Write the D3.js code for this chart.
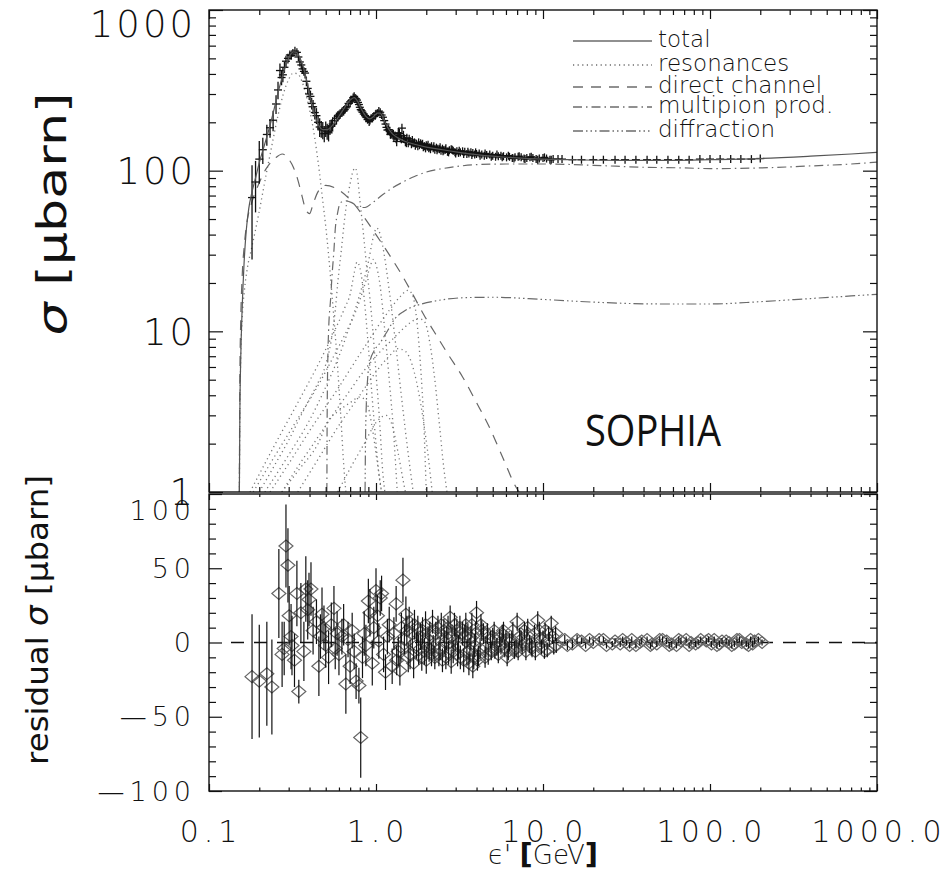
<!DOCTYPE html>
<html>
<head>
<meta charset="utf-8">
<script src="https://cdn.jsdelivr.net/npm/d3@7/dist/d3.min.js"></script>
<style>
  body { margin: 0; background: #fff; }
  svg { display: block; }
  .lbl { font-family: "DejaVu Sans", sans-serif; font-weight: 200; fill: #111; }
</style>
</head>
<body>
<svg id="chart" width="946" height="872"></svg>
<script>
// ---- model curves, [eps' GeV, sigma microbarn]
var totalCurve = [[0.152,1],[0.153,3],[0.155,7],[0.158,14],[0.162,26],[0.167,42],[0.173,58],[0.18,72],[0.19,90],[0.2,112],
  [0.215,145],[0.23,185],[0.245,240],[0.26,310],[0.275,385],[0.29,460],[0.305,520],[0.32,548],[0.335,545],[0.35,505],
  [0.37,430],[0.39,340],[0.41,265],[0.43,220],[0.45,195],[0.48,180],[0.51,180],[0.55,192],[0.6,218],[0.65,248],
  [0.7,275],[0.74,285],[0.78,268],[0.82,240],[0.87,218],[0.92,210],[0.97,218],[1.02,228],[1.06,228],[1.1,215],
  [1.16,190],[1.25,170],[1.35,160],[1.5,152],[1.7,146],[2,140],[2.5,135],[3,131],[4,126],[5,123],[7,120],[10,118],
  [15,117],[30,116],[60,116],[100,117],[200,119],[400,123],[700,127],[1000,130]];

var deltaRes = [[0.152,1],[0.153,3],[0.155,7],[0.158,12],[0.163,18],[0.17,25],[0.18,33],[0.19,43],[0.2,56],[0.22,95],
  [0.24,150],[0.26,225],[0.28,305],[0.3,370],[0.32,405],[0.34,400],[0.36,360],[0.38,300],[0.4,240],[0.42,185],
  [0.44,135],[0.46,95],[0.48,65],[0.5,45],[0.52,30],[0.54,19],[0.56,12],[0.58,7.5],[0.6,4.5],[0.62,2.6],[0.64,1.5],[0.66,1]];
var res1520 = [[0.2,1],[0.25,1.5],[0.3,2.1],[0.35,2.9],[0.4,3.8],[0.45,4.8],[0.5,6.2],[0.55,10],[0.57,13.5],[0.59,20],
  [0.62,32],[0.65,51],[0.7,83],[0.73,100],[0.75,104],[0.77,96],[0.8,66],[0.84,41],[0.88,25],[0.92,16],[0.96,9.8],
  [1,5.5],[1.05,2.8],[1.1,1.3],[1.13,1]];
var res1680 = [[0.216,1],[0.3,1.7],[0.4,2.8],[0.5,4.5],[0.6,7],[0.7,11],[0.8,17],[0.9,27],[0.96,38],[1.01,44],
  [1.06,40],[1.12,30],[1.2,18],[1.3,9],[1.4,4.5],[1.5,2.4],[1.6,1.4],[1.67,1]];
var res1535 = [[0.176,1],[0.25,2],[0.35,3.8],[0.45,6.2],[0.55,9.5],[0.65,14],[0.7,17],[0.74,23],[0.77,27],[0.8,25],
  [0.85,16],[0.9,8],[0.95,3.8],[1,2],[1.05,1.2],[1.08,1]];
var res1650 = [[0.184,1],[0.25,1.7],[0.35,3],[0.45,4.6],[0.55,6.8],[0.65,9.5],[0.75,13],[0.85,19],[0.92,25],[0.96,28],
  [1,26],[1.06,19],[1.12,11],[1.2,5],[1.28,2.2],[1.34,1]];
var res1905 = [[0.232,1],[0.3,1.5],[0.4,2.4],[0.5,3.4],[0.6,4.5],[0.7,5.8],[0.8,7.2],[0.9,8.7],[1,10.3],[1.2,13.5],
  [1.4,16.5],[1.55,18],[1.65,17],[1.75,12],[1.85,6],[1.93,2.8],[2,1]];
var res1950 = [[0.273,1],[0.35,1.5],[0.45,2.2],[0.55,3],[0.7,4.3],[0.85,5.7],[1,7],[1.2,8.5],[1.4,10],[1.6,11.3],
  [1.8,12],[1.95,11.5],[2.1,8.5],[2.25,5],[2.4,2.6],[2.55,1.4],[2.66,1]];
var res1700 = [[0.34,1],[0.45,1.6],[0.6,2.6],[0.8,4],[1,5.6],[1.2,7],[1.35,7.8],[1.5,7.5],[1.7,5.5],[1.9,3],[2.05,1.7],[2.17,1]];
var res1440 = [[0.273,1],[0.35,1.4],[0.45,2],[0.52,2.8],[0.6,3.2],[0.7,3.6],[0.8,3.9],[0.88,3.6],[0.95,2.5],[1.02,1.5],[1.08,1]];
var res1675 = [[0.59,1],[0.7,1.4],[0.85,2],[1,2.7],[1.15,3],[1.25,2.6],[1.35,1.8],[1.45,1.2],[1.5,1]];
var resonanceCurves = [deltaRes, res1520, res1680, res1535, res1650, res1905, res1950, res1700, res1440, res1675];

var directCurve = [[0.152,1],[0.153,5],[0.155,12],[0.158,22],[0.163,35],[0.17,50],[0.18,63],[0.2,84],[0.22,103],
  [0.25,120],[0.275,127],[0.3,118],[0.32,105],[0.34,88],[0.36,70],[0.38,57],[0.4,54],[0.42,62],[0.45,74],[0.5,81],
  [0.57,78],[0.7,66],[0.83,53],[1,40],[1.2,30],[1.43,22.4],[1.67,16.8],[1.94,12.6],[2.25,9.8],[2.7,7.2],[3.3,5.2],
  [4,3.6],[4.8,2.5],[5.8,1.6],[6.9,1.07],[7.2,1]];
var multipionCurve = [[0.508,1],[0.51,3],[0.515,7],[0.52,10],[0.535,16],[0.545,22],[0.56,32],[0.57,43],[0.59,55],
  [0.61,63],[0.66,65],[0.72,63],[0.8,59],[0.86,59],[0.95,63],[1.1,71],[1.25,78],[1.45,85],[1.7,92],[2,98],[2.5,103],
  [3,106],[4,109],[6,110],[10,110],[20,108],[40,105],[70,104],[100,103],[200,104],[400,107],[700,110],[1000,113]];
var diffractionCurve = [[0.86,1],[0.865,2],[0.875,3.5],[0.89,5],[0.92,6.5],[0.97,7.5],[1.06,8.5],[1.18,10.2],[1.3,12],
  [1.45,13.2],[1.6,14],[1.88,14.8],[2.3,15.5],[3.4,16.2],[5,16.3],[10,15.8],[20,15.2],[50,14.8],[100,14.8],
  [200,15.3],[400,16],[700,16.6],[1000,17]];

// ---- measured cross section, [eps', sigma, error]
var sigmaPoints = [[0.181,68,40],[0.19,85,30],[0.2,118,35],[0.21,135,25],[0.222,168,25],[0.232,185,25],[0.242,206,30],
  [0.252,260,35],[0.259,318,40],[0.266,420,45],[0.272,380,40],[0.277,395,40],[0.283,440,35],[0.289,480,40],[0.297,500,35],
  [0.305,525,35],[0.311,520,30],[0.318,540,30],[0.327,555,35],[0.336,545,30],[0.343,510,30],[0.35,475,30],[0.357,455,28],
  [0.363,430,30],[0.37,415,25],[0.376,405,30],[0.383,360,25],[0.39,325,25],[0.398,300,25],[0.405,290,25],[0.412,262,22],
  [0.42,250,25],[0.43,230,22],[0.44,220,25],[0.45,200,22],[0.46,187,25],[0.47,182,22],[0.48,179,22],[0.49,170,20],
  [0.5,182,20],[0.51,176,20],[0.52,172,20],[0.53,187,20],[0.54,190,18],[0.55,195,20],[0.565,205,18],[0.58,212,18],
  [0.59,218,16],[0.6,222,15],[0.61,226,15],[0.625,231,15],[0.64,235,15],[0.65,240,15],[0.66,246,14],[0.67,250,15],
  [0.685,262,14],[0.7,268,15],[0.71,272,14],[0.72,275,15],[0.73,285,12],[0.74,290,12],[0.75,283,12],[0.76,280,12],
  [0.77,275,12],[0.78,266,12],[0.79,258,12],[0.8,248,12],[0.81,240,12],[0.82,236,12],[0.83,231,12],[0.845,225,12],
  [0.86,220,12],[0.87,216,12],[0.88,214,12],[0.89,208,12],[0.9,210,12],[0.91,202,12],[0.92,206,12],[0.935,212,12],
  [0.95,212,12],[0.97,218,12],[0.99,220,12],[1,226,12],[1.02,228,12],[1.04,235,12],[1.06,231,12],[1.08,222,12],
  [1.1,215,12],[1.12,205,12],[1.14,195,12],[1.155,186,12],[1.17,179,12],[1.19,180,12],[1.21,175,10],[1.23,168,10],
  [1.25,171,10],[1.28,162,10],[1.3,165,10],[1.32,158,10],[1.34,163,10],[1.36,172,12],[1.38,170,12],[1.4,162,12],
  [1.43,184,12],[1.46,165,12],[1.48,158,10],[1.5,152,10],[1.53,160,10],[1.56,150,10],[1.6,152,8],[1.63,146,8],
  [1.67,148,8],[1.7,150,8],[1.75,147,8],[1.78,142,8],[1.82,144,8],[1.85,148,8],[1.88,145,8],[1.92,140,8],[1.95,142,8],
  [2,144,7],[2.03,141,7],[2.07,138,7],[2.1,140,7],[2.15,142,7],[2.2,138,7],[2.25,135,7],[2.3,139,7],[2.35,137,7],
  [2.4,136,7],[2.45,133,7],[2.5,137,7],[2.55,134,7],[2.6,135,7],[2.68,131,7],[2.75,134,7],[2.82,136,6],[2.9,133,6],
  [2.97,130,6],[3.05,132,6],[3.12,129,6],[3.2,130,6],[3.3,132,6],[3.4,131,6],[3.5,127,6],[3.6,128,6],[3.7,130,6],
  [3.8,129,6],[3.9,126,6],[4,127,6],[4.15,128,6],[4.3,126,6],[4.45,124,6],[4.6,125,5],[4.8,126,5],[5,124,5],
  [5.2,122,5],[5.4,123,5],[5.6,124,5],[5.8,123,5],[6.05,121,5],[6.3,122,5],[6.55,120,5],[6.8,121,5],[7.1,122,5],
  [7.4,121,5],[7.7,119,5],[8,120,5],[8.35,121,5],[8.7,120,5],[9.1,118,5],[9.5,119,5],[10,120,5],[10.5,119,5],
  [11,117,4],[11.5,118,4],[12.3,118,4],[13,118,4],[15,117,4],[17,117,4],[20,117,4],[23,117,4],[27,117,4],[31,117,4],
  [36,117,4],[42,117,4],[48,117,4],[56,117,4],[65,117,4],[75,117,4],[87,118,4],[100,118,4],[115,118,4],[133,118,4],
  [153,118,4],[177,118,4],[200,119,4],
  [1.22,168,10],[1.27,170,10],[1.33,152,10],[1.42,158,10],[1.52,150,10],[1.58,158,8],[1.65,155,8],[1.72,143,8],
  [1.8,150,8],[1.9,147,8],[1.98,138,8],[2.05,145,7],[2.12,136,7],[2.22,142,7],[2.32,134,7],[2.42,140,7],[2.52,132,7],
  [2.62,138,7],[2.72,130,7],[2.86,135,6],[3,128,6],[3.15,133,6],[3.35,127,6],[3.55,131,6],[3.75,125,6],[3.95,130,6],
  [4.2,124,6],[4.5,128,6],[4.9,122,5],[5.3,126,5],[5.7,121,5],[6.2,124,5],[6.7,119,5],[7.2,123,5],[7.8,118,5],
  [8.5,122,5],[9.3,117,5],[10.2,121,5],[11.2,117,4]];

// ---- residuals, [eps', residual sigma, error]
var residualPoints = [[0.181,-23,42],[0.2,-26,38],[0.222,-21,35],[0.238,-30,32],[0.262,33,30],[0.274,-8,22],[0.282,-4,18],
  [0.289,65,28],[0.297,52,25],[0.302,18,20],[0.31,4,22],[0.314,-2,20],[0.325,-12,18],[0.336,33,22],[0.345,-33,8],
  [0.355,20,20],[0.37,-6,20],[0.38,36,22],[0.39,22,20],[0.397,29,18],[0.408,36,18],[0.42,8,16],[0.44,14,15],
  [0.455,-16,20],[0.465,4,15],[0.475,19,18],[0.488,10,15],[0.5,-2,15],[0.52,-10,18],[0.54,12,15],[0.56,23,15],
  [0.57,-4,14],[0.585,6,15],[0.6,-8,14],[0.625,4,12],[0.64,12,14],[0.66,-28,20],[0.68,2,12],[0.7,-16,12],[0.72,8,12],
  [0.74,-6,12],[0.76,-26,12],[0.79,-29,12],[0.81,-64,27],[0.83,-10,14],[0.85,6,15],[0.87,-2,14],[0.9,28,15],
  [0.92,20,16],[0.95,-14,15],[0.97,10,14],[1,35,15],[1.02,18,14],[1.04,1,12],[1.06,30,12],[1.08,33,12],[1.11,-8,12],
  [1.14,-20,12],[1.17,4,12],[1.2,12,12],[1.25,-16,12],[1.28,6,11],[1.32,26,12],[1.36,-6,10],[1.39,-19,10],[1.42,10,10],
  [1.45,42,15],[1.48,2,10],[1.51,19,12],[1.56,-10,10],[1.6,-8,10],[1.65,6,10],[1.7,12,10],[1.75,-2,9],[1.8,-5,10],
  [1.85,4,9],[1.9,8,9],[1.95,-6,9],[2,-12,9],[2.05,2,9],[2.1,5,9],[2.15,-8,8],[2.2,-3,8],[2.28,6,8],[2.35,10,8],
  [2.42,-4,8],[2.5,-12,8],[2.58,0,8],[2.65,3,8],[2.72,-7,8],[2.78,17,8],[2.85,4,8],[2.9,-6,8],[2.98,2,8],[3.05,8,8],
  [3.12,-3,8],[3.2,-10,8],[3.3,6,8],[3.4,4,8],[3.5,-7,8],[3.6,-14,8],[3.7,3,8],[3.8,-16,8],[3.9,-2,8],[4,20,8],
  [4.1,-9,7],[4.2,-4,7],[4.3,8,7],[4.4,6,7],[4.55,-3,7],[4.7,-8,7],[4.85,2,6],[5,4,6],[5.15,-5,6],[5.3,-3,6],[5.5,3,6],
  [5.7,6,6],[5.9,-4,6],[6.1,-10,6],[6.3,0,6],[6.5,2,6],[6.75,-5,6],[7,14,6],[7.25,4,6],[7.5,-2,6],[7.75,8,6],[8,5,6],
  [8.3,-1,6],[8.6,-4,6],[8.9,6,6],[9.3,15,6],[9.6,3,6],[10,3,5],[10.3,8,5],[10.6,-5,5],[10.9,2,5],[11.2,13,5],
  [11.6,-3,5],[12,-2,5],[13.5,2,3],[15,-1,3],[17,1,2],[19,2,2],[21.7,2,2],[24,-2,2],[27,1,2],[29,-1,2],[31.6,0,2],
  [34,2,2],[36,-2,2],[39,1,2],[42,2,2],[45,-1,2],[48,-1,2],[52,2,2],[55,1,2],[59,-1,2],[63,-2,2],[67,1,2],[72,2,2],
  [77,0,2],[82,-1,2],[88,2,2],[95,1,2],[102,-1,2],[110,-2,2],[118,1,2],[125,1,2],[135,-2,2],[145,2,2],[155,0,2],
  [165,-1,2],[175,2,2],[185,1,2],[205,0,2],
  [1.33,-12,10],[1.41,-3,10],[1.53,8,10],[1.58,14,10],[1.68,-14,10],[1.78,9,9],[1.88,-10,9],[1.98,12,9],[2.08,-4,9],
  [2.18,14,8],[2.25,-10,8],[2.38,-8,8],[2.46,12,8],[2.55,8,8],[2.62,-10,8],[2.7,10,8],[2.82,-13,8],[2.95,12,8],
  [3.08,-8,8],[3.18,10,8],[3.35,-12,8],[3.45,12,8],[3.55,5,8],[3.65,-5,8],[3.75,12,8],[3.85,-10,8],[3.95,6,8],
  [4.05,-12,7],[4.25,12,7],[4.5,-10,7],[4.65,6,7],[4.9,-6,6],[5.1,8,6],[5.4,-8,6],[5.6,-2,6],[5.8,8,6],[6,2,6],
  [6.2,-6,6],[6.6,8,6],[6.9,-4,6],[7.1,-6,6],[7.4,2,6],[7.9,-6,6],[8.1,10,6],[8.5,-3,6],[9,-6,6],[9.5,8,6],[9.8,-3,5],
  [10.2,-6,5],[10.8,6,5],[11.4,4,5],[11.9,6,5],[14,-2,3],[16,2,3],[18,-2,2],[20,0,2],[23,2,2],[26,-1,2],[30,2,2],
  [33,-2,2],[38,0,2],[44,-2,2],[50,2,2],[57,-2,2],[65,2,2],[75,-2,2],[85,0,2],[98,2,2],[106,2,2],[114,-1,2],[130,0,2],
  [140,-1,2],[150,2,2],[170,-2,2],[180,-1,2],[195,2,2]];

var xMajor = [0.1, 1, 10, 100, 1000];
var xLabels = ["0.1", "1.0", "10.0", "100.0", "1000.0"];
var yTopMajor = [1, 10, 100, 1000];
var yLowMajor = [-100, -50, 0, 50, 100];
var yLowLabels = ["\u2014100", "\u201450", "0", "50", "100"];
var legendNames = ["total", "resonances", "direct channel", "multipion prod.", "diffraction"];

var LEFT = 209, RIGHT = 877, TOP = 10, TOP_BOTTOM = 492, LOW_TOP = 494, LOW_BOTTOM = 791;

var DASH = {
  total: null,
  res: "1.2,3.4",
  direct: "10,8",
  multi: "9,4,1.5,4",
  diff: "10,3,1.5,3,1.5,3,1.5,3"
};

var svg = d3.select("#chart");
var x = d3.scaleLog().domain([0.1, 1000]).range([LEFT, RIGHT]);
var yTop = d3.scaleLog().domain([1, 1000]).range([TOP_BOTTOM, TOP]);
var yLow = d3.scaleLinear().domain([-100, 100]).range([LOW_BOTTOM, LOW_TOP]);

var defs = svg.append("defs");
defs.append("clipPath").attr("id", "clipTop").append("rect")
  .attr("x", LEFT).attr("y", TOP).attr("width", RIGHT - LEFT).attr("height", TOP_BOTTOM - TOP);
defs.append("clipPath").attr("id", "clipLow").append("rect")
  .attr("x", LEFT).attr("y", LOW_TOP).attr("width", RIGHT - LEFT).attr("height", LOW_BOTTOM - LOW_TOP);

var xMinor = x.ticks().filter(function(d) { return xMajor.indexOf(d) < 0; });
var yTopMinor = yTop.ticks().filter(function(d) { return yTopMajor.indexOf(d) < 0; });
var yLowMinor = d3.range(-90, 100, 10).filter(function(d) { return d % 50 !== 0; });

// ---- top panel: model curves
var plotTop = svg.append("g").attr("clip-path", "url(#clipTop)");
var line = d3.line()
  .x(function(d) { return x(d[0]); })
  .y(function(d) { return yTop(d[1]); })
  .curve(d3.curveMonotoneX);

plotTop.selectAll(".res").data(resonanceCurves).enter().append("path")
  .attr("class", "res").attr("d", line)
  .attr("fill", "none").attr("stroke", "#777").attr("stroke-width", 1.3)
  .attr("stroke-dasharray", DASH.res);
plotTop.append("path").datum(directCurve).attr("d", line)
  .attr("fill", "none").attr("stroke", "#666").attr("stroke-width", 1.2)
  .attr("stroke-dasharray", DASH.direct);
plotTop.append("path").datum(multipionCurve).attr("d", line)
  .attr("fill", "none").attr("stroke", "#6a6a6a").attr("stroke-width", 1.2)
  .attr("stroke-dasharray", DASH.multi);
plotTop.append("path").datum(diffractionCurve).attr("d", line)
  .attr("fill", "none").attr("stroke", "#6a6a6a").attr("stroke-width", 1.2)
  .attr("stroke-dasharray", DASH.diff);

// data crosses with error bars
var pts = plotTop.append("g").attr("stroke", "#111").attr("stroke-width", 1.3);
pts.selectAll(".eb").data(sigmaPoints).enter().append("line")
  .attr("x1", function(d) { return x(d[0]); }).attr("x2", function(d) { return x(d[0]); })
  .attr("y1", function(d) { return Math.min(yTop(d[1] + d[2]), yTop(d[1]) - 4); })
  .attr("y2", function(d) { return Math.max(yTop(Math.max(d[1] - d[2], 1)), yTop(d[1]) + 4); });
pts.selectAll(".hb").data(sigmaPoints).enter().append("line")
  .attr("x1", function(d) { return x(d[0]) - 4; }).attr("x2", function(d) { return x(d[0]) + 4; })
  .attr("y1", function(d) { return yTop(d[1]); }).attr("y2", function(d) { return yTop(d[1]); });

plotTop.append("path").datum(totalCurve).attr("d", line)
  .attr("fill", "none").attr("stroke", "#555").attr("stroke-width", 1.2);

// ---- lower panel: residuals
var plotLow = svg.append("g").attr("clip-path", "url(#clipLow)");
plotLow.append("line")
  .attr("x1", LEFT + 22).attr("x2", RIGHT).attr("y1", yLow(0)).attr("y2", yLow(0))
  .attr("stroke", "#111").attr("stroke-width", 1.3).attr("stroke-dasharray", "13,10");
plotLow.append("g").attr("fill", "none").attr("stroke", "#666").attr("stroke-width", 1.2)
  .selectAll("path").data(residualPoints).enter().append("path")
  .attr("d", function(d) {
    var cx = x(d[0]), cy = yLow(d[1]);
    return "M" + (cx - 7) + "," + cy + "L" + cx + "," + (cy - 6) + "L" + (cx + 7) + "," + cy + "L" + cx + "," + (cy + 6) + "Z";
  });
plotLow.append("g").attr("stroke", "#111").attr("stroke-width", 1.2)
  .selectAll("line").data(residualPoints).enter().append("line")
  .attr("x1", function(d) { return x(d[0]); }).attr("x2", function(d) { return x(d[0]); })
  .attr("y1", function(d) { return yLow(d[1] + d[2]); })
  .attr("y2", function(d) { return yLow(d[1] - d[2]); });

// ---- frames and ticks
function tickAxis(axis, scale, values, size, tx, ty) {
  var g = svg.append("g").attr("transform", "translate(" + tx + "," + ty + ")")
    .call(axis(scale).tickValues(values).tickSize(size).tickSizeOuter(0).tickFormat(""));
  g.select(".domain").remove();
  g.selectAll("line").attr("stroke", "#111").attr("stroke-width", 1.2);
  return g;
}
// top panel
tickAxis(d3.axisTop, x, xMajor, 9, 0, TOP_BOTTOM);
tickAxis(d3.axisTop, x, xMinor, 5, 0, TOP_BOTTOM);
tickAxis(d3.axisBottom, x, xMajor, 9, 0, TOP);
tickAxis(d3.axisBottom, x, xMinor, 5, 0, TOP);
tickAxis(d3.axisRight, yTop, yTopMajor, 14, LEFT, 0);
tickAxis(d3.axisRight, yTop, yTopMinor, 7, LEFT, 0);
tickAxis(d3.axisLeft, yTop, yTopMajor, 14, RIGHT, 0);
tickAxis(d3.axisLeft, yTop, yTopMinor, 7, RIGHT, 0);
// lower panel
tickAxis(d3.axisBottom, x, xMajor, 6, 0, LOW_TOP);
tickAxis(d3.axisBottom, x, xMinor, 3, 0, LOW_TOP);
tickAxis(d3.axisTop, x, xMajor, 7, 0, LOW_BOTTOM);
tickAxis(d3.axisTop, x, xMinor, 3.5, 0, LOW_BOTTOM);
tickAxis(d3.axisRight, yLow, yLowMajor, 13, LEFT, 0);
tickAxis(d3.axisRight, yLow, yLowMinor, 7, LEFT, 0);
tickAxis(d3.axisLeft, yLow, yLowMajor, 13, RIGHT, 0);
tickAxis(d3.axisLeft, yLow, yLowMinor, 7, RIGHT, 0);

svg.append("rect").attr("x", LEFT).attr("y", TOP).attr("width", RIGHT - LEFT).attr("height", TOP_BOTTOM - TOP)
  .attr("fill", "none").attr("stroke", "#111").attr("stroke-width", 1.4);
svg.append("rect").attr("x", LEFT).attr("y", LOW_TOP).attr("width", RIGHT - LEFT).attr("height", LOW_BOTTOM - LOW_TOP)
  .attr("fill", "none").attr("stroke", "#111").attr("stroke-width", 1.4);

// ---- tick labels
svg.append("g").selectAll("text").data(yTopMajor).enter().append("text")
  .attr("class", "lbl").attr("text-anchor", "end").attr("x", 196)
  .attr("y", function(d) { return Math.max(yTop(d), 24); })
  .attr("dy", "0.36em").style("font-size", "37px").style("letter-spacing", "3px")
  .text(function(d) { return d; });
svg.append("g").selectAll("text").data(yLowMajor).enter().append("text")
  .attr("class", "lbl").attr("text-anchor", "end").attr("x", 196)
  .attr("y", function(d) { return Math.max(yLow(d), 510); })
  .attr("dy", "0.36em").style("font-size", "27px").style("letter-spacing", "5px")
  .text(function(d, i) { return yLowLabels[i]; });
svg.append("g").selectAll("text").data(xMajor).enter().append("text")
  .attr("class", "lbl").attr("text-anchor", "middle")
  .attr("x", function(d) { return x(d) + 2; }).attr("y", 842)
  .style("font-size", "30px").style("letter-spacing", "5px")
  .text(function(d, i) { return xLabels[i]; });

// ---- axis titles
var yTitle = svg.append("text").attr("class", "lbl")
  .attr("transform", "translate(66,214) rotate(-90)").attr("text-anchor", "middle")
  .attr("textLength", 243).attr("lengthAdjust", "spacingAndGlyphs")
  .style("font-size", "40px").style("font-weight", "400");
yTitle.append("tspan").style("font-style", "italic").text("\u03c3");
yTitle.append("tspan").text("  [\u03bcbarn]");

var rTitle = svg.append("text").attr("class", "lbl")
  .attr("transform", "translate(48,620) rotate(-90)").attr("text-anchor", "middle")
  .attr("textLength", 290).attr("lengthAdjust", "spacingAndGlyphs")
  .style("font-size", "31px").style("font-weight", "400");
rTitle.append("tspan").text("residual ");
rTitle.append("tspan").style("font-style", "italic").text("\u03c3");
rTitle.append("tspan").text(" [\u03bcbarn]");

var xTitle = svg.append("text").attr("class", "lbl")
  .attr("x", 543).attr("y", 864).attr("text-anchor", "middle")
  .style("font-size", "26px");
xTitle.append("tspan").text("\u03f5'  ");
xTitle.append("tspan").style("font-size", "29px").style("font-weight", "700").text("[");
xTitle.append("tspan").text("GeV");
xTitle.append("tspan").style("font-size", "29px").style("font-weight", "700").text("]");

// ---- legend
var legendDash = [DASH.total, DASH.res, DASH.direct, DASH.multi, DASH.diff];
var legendY = [41, 65, 87, 107, 131];
var legend = svg.append("g");
legend.selectAll("line").data(legendNames).enter().append("line")
  .attr("x1", 573).attr("x2", 652)
  .attr("y1", function(d, i) { return legendY[i]; }).attr("y2", function(d, i) { return legendY[i]; })
  .attr("stroke", "#222").attr("stroke-width", 1.2)
  .attr("stroke-dasharray", function(d, i) { return legendDash[i]; });
legend.selectAll("text").data(legendNames).enter().append("text")
  .attr("class", "lbl").attr("x", 658)
  .attr("y", function(d, i) { return legendY[i] + 6; })
  .style("font-size", "23px")
  .text(function(d) { return d; });

// ---- label inside the plot
svg.append("text")
  .attr("x", 585).attr("y", 446)
  .attr("textLength", 136).attr("lengthAdjust", "spacingAndGlyphs")
  .style("font-family", "'Open Sans', sans-serif").style("font-size", "44px").style("fill", "#111")
  .text("SOPHIA");
</script>
</body>
</html>
